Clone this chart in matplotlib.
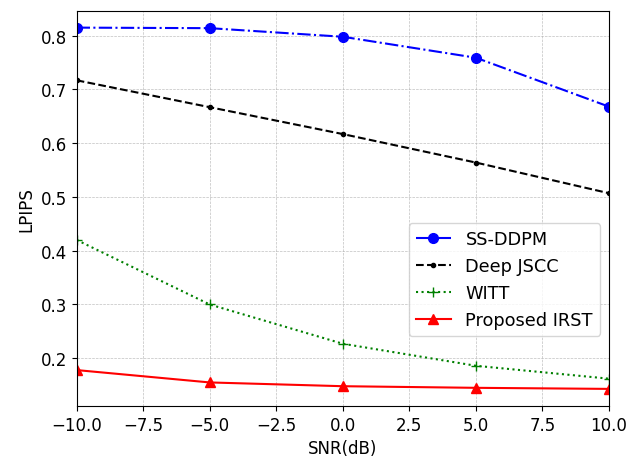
import numpy as np
from matplotlib import pyplot as plt

# LPIPS vs SNR for the four schemes
snr = [-10, -5, 0, 5, 10]
ss_ddpm = [0.815, 0.814, 0.798, 0.759, 0.668]
deep_jscc = [0.717, 0.667, 0.617, 0.564, 0.507]
witt = [0.420, 0.300, 0.227, 0.186, 0.162]
irst = [0.178, 0.155, 0.148, 0.145, 0.143]

plt.rcParams['font.size'] = 12
fig, ax = plt.subplots(figsize=(6.39, 4.60), dpi=100)

ax.plot(snr, ss_ddpm, 'b-.', marker='o', markersize=7, label='SS-DDPM')
ax.plot(snr, deep_jscc, 'k--', marker='.', markersize=6, label='Deep JSCC')
ax.plot(snr, witt, 'g:', marker='+', markersize=7, label='WITT')
ax.plot(snr, irst, 'r-', marker='^', markersize=7, label='Proposed IRST')

ax.set_xlim(-10, 10)
ax.set_ylim(0.111, 0.846)
ax.set_xlabel('SNR(dB)')
ax.set_ylabel('LPIPS')
ax.grid(True, linestyle='--', linewidth=0.5, color='#b0b0b0', alpha=0.8)
ax.legend(loc='lower right', bbox_to_anchor=(1.0, 0.155), fontsize=12.8)

fig.subplots_adjust(left=0.12, right=0.953, top=0.974, bottom=0.115)
fig.savefig('out.png')
